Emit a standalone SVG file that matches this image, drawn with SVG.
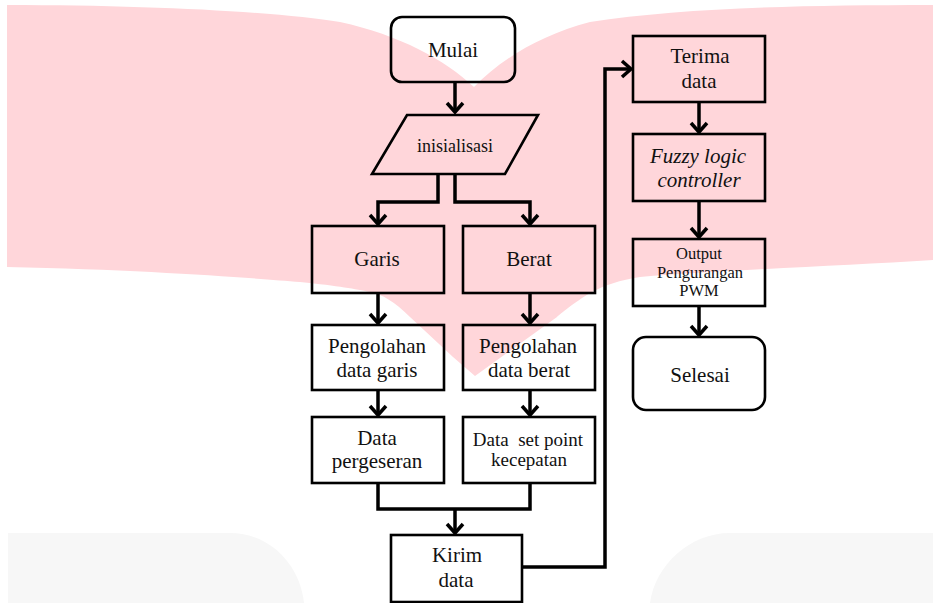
<svg xmlns="http://www.w3.org/2000/svg" width="933" height="603" viewBox="0 0 933 603">
<style>
.bg{fill:#ffffff}
.pink{fill:#ffd6da}
.gray{fill:#f7f7f7}
.box{fill:none;stroke:#000;stroke-width:2.6}
.t{font-family:"Liberation Serif","Times New Roman",serif;font-size:21px;fill:#111;text-anchor:middle}
.s19{font-size:19px}
.s18{font-size:18px}
.s16{font-size:16.5px}
.it{font-style:italic}
.con{fill:none;stroke:#000;stroke-width:3.5;stroke-linejoin:miter}
</style>
<defs>
<marker id="arr" viewBox="-14 -12 24 24" markerWidth="24" markerHeight="24" refX="0" refY="0" orient="auto" markerUnits="userSpaceOnUse">
<path d="M-9,-8 L0,0 L-9,8" fill="none" stroke="#000" stroke-width="3.5"/>
</marker>
</defs>
<rect class="bg" x="0" y="0" width="933" height="603"/>
<path class="pink" d="M7,5 C150,5 280,12 340,22 C400,35 445,60 474,87 C500,60 540,35 590,22 C680,8 800,5 933,5 L933,260 C840,266 720,270 640,277 C620,280 605,285 590,293 C575,302 560,314 557,317 L475,376 L453,357 L410,317 C395,302 382,294 370,292 C355,289 340,286 300,282 C250,278 150,270 7,267 Z"/>
<path class="gray" d="M8,533 L230,533 C270,533 300,565 304,603 L8,603 Z"/>
<path class="gray" d="M650,603 C655,565 690,533 730,533 L933,533 L933,603 Z"/>

<g id="connectors">
<path class="con" d="M455,83 L455,112" marker-end="url(#arr)"/>
<path class="con" d="M438,175 L438,202 L378,202 L378,224" marker-end="url(#arr)"/>
<path class="con" d="M455,175 L455,202 L530,202 L530,224" marker-end="url(#arr)"/>
<path class="con" d="M378,293 L378,323" marker-end="url(#arr)"/>
<path class="con" d="M530,293 L530,323" marker-end="url(#arr)"/>
<path class="con" d="M378,390 L378,415" marker-end="url(#arr)"/>
<path class="con" d="M530,390 L530,415" marker-end="url(#arr)"/>
<path class="con" d="M378,483 L378,509 L530,509 L530,483"/>
<path class="con" d="M455,509 L455,533" marker-end="url(#arr)"/>
<path class="con" d="M522,567 L605,567 L605,69 L631,69" marker-end="url(#arr)"/>
<path class="con" d="M699,102 L699,132" marker-end="url(#arr)"/>
<path class="con" d="M699,201 L699,237" marker-end="url(#arr)"/>
<path class="con" d="M699,306 L699,335" marker-end="url(#arr)"/>
</g>

<g id="mulai">
<rect class="box" x="391" y="17" width="124" height="65" rx="11"/>
<text class="t" x="453" y="57">Mulai</text>
</g>
<g id="inisialisasi">
<polygon class="box" points="407,115 538,115 505,174 372,174"/>
<text class="t s18" x="455" y="152">inisialisasi</text>
</g>
<g id="garis">
<rect class="box" x="312" y="226" width="132" height="67"/>
<text class="t" x="377" y="266">Garis</text>
</g>
<g id="berat">
<rect class="box" x="463" y="226" width="132" height="67"/>
<text class="t" x="529" y="266">Berat</text>
</g>
<g id="pengolahan-garis">
<rect class="box" x="312" y="325" width="132" height="65"/>
<text class="t" x="377" y="353">Pengolahan</text>
<text class="t" x="377" y="377">data garis</text>
</g>
<g id="pengolahan-berat">
<rect class="box" x="463" y="325" width="132" height="65"/>
<text class="t" x="528" y="353">Pengolahan</text>
<text class="t" x="529" y="377">data berat</text>
</g>
<g id="data-pergeseran">
<rect class="box" x="312" y="417" width="132" height="66"/>
<text class="t" x="377" y="445">Data</text>
<text class="t" x="377" y="468">pergeseran</text>
</g>
<g id="data-setpoint">
<rect class="box" x="463" y="417" width="132" height="66"/>
<text class="t s19" x="528" y="446" xml:space="preserve">Data  set point</text>
<text class="t s19" x="529" y="466">kecepatan</text>
</g>
<g id="kirim">
<rect class="box" x="391" y="535" width="131" height="67"/>
<text class="t" x="457" y="562">Kirim</text>
<text class="t" x="456" y="587">data</text>
</g>
<g id="terima">
<rect class="box" x="633" y="36" width="132" height="66"/>
<text class="t" x="700" y="63">Terima</text>
<text class="t" x="699" y="88">data</text>
</g>
<g id="fuzzy">
<rect class="box" x="633" y="134" width="132" height="67"/>
<text class="t it" x="698" y="163">Fuzzy logic</text>
<text class="t it" x="699" y="187">controller</text>
</g>
<g id="output">
<rect class="box" x="633" y="239" width="132" height="67"/>
<text class="t s16" x="699" y="259">Output</text>
<text class="t s16" x="700" y="278">Pengurangan</text>
<text class="t s16" x="699" y="296">PWM</text>
</g>
<g id="selesai">
<rect class="box" x="633" y="337" width="132" height="73" rx="13"/>
<text class="t" x="700" y="382">Selesai</text>
</g>
</svg>
